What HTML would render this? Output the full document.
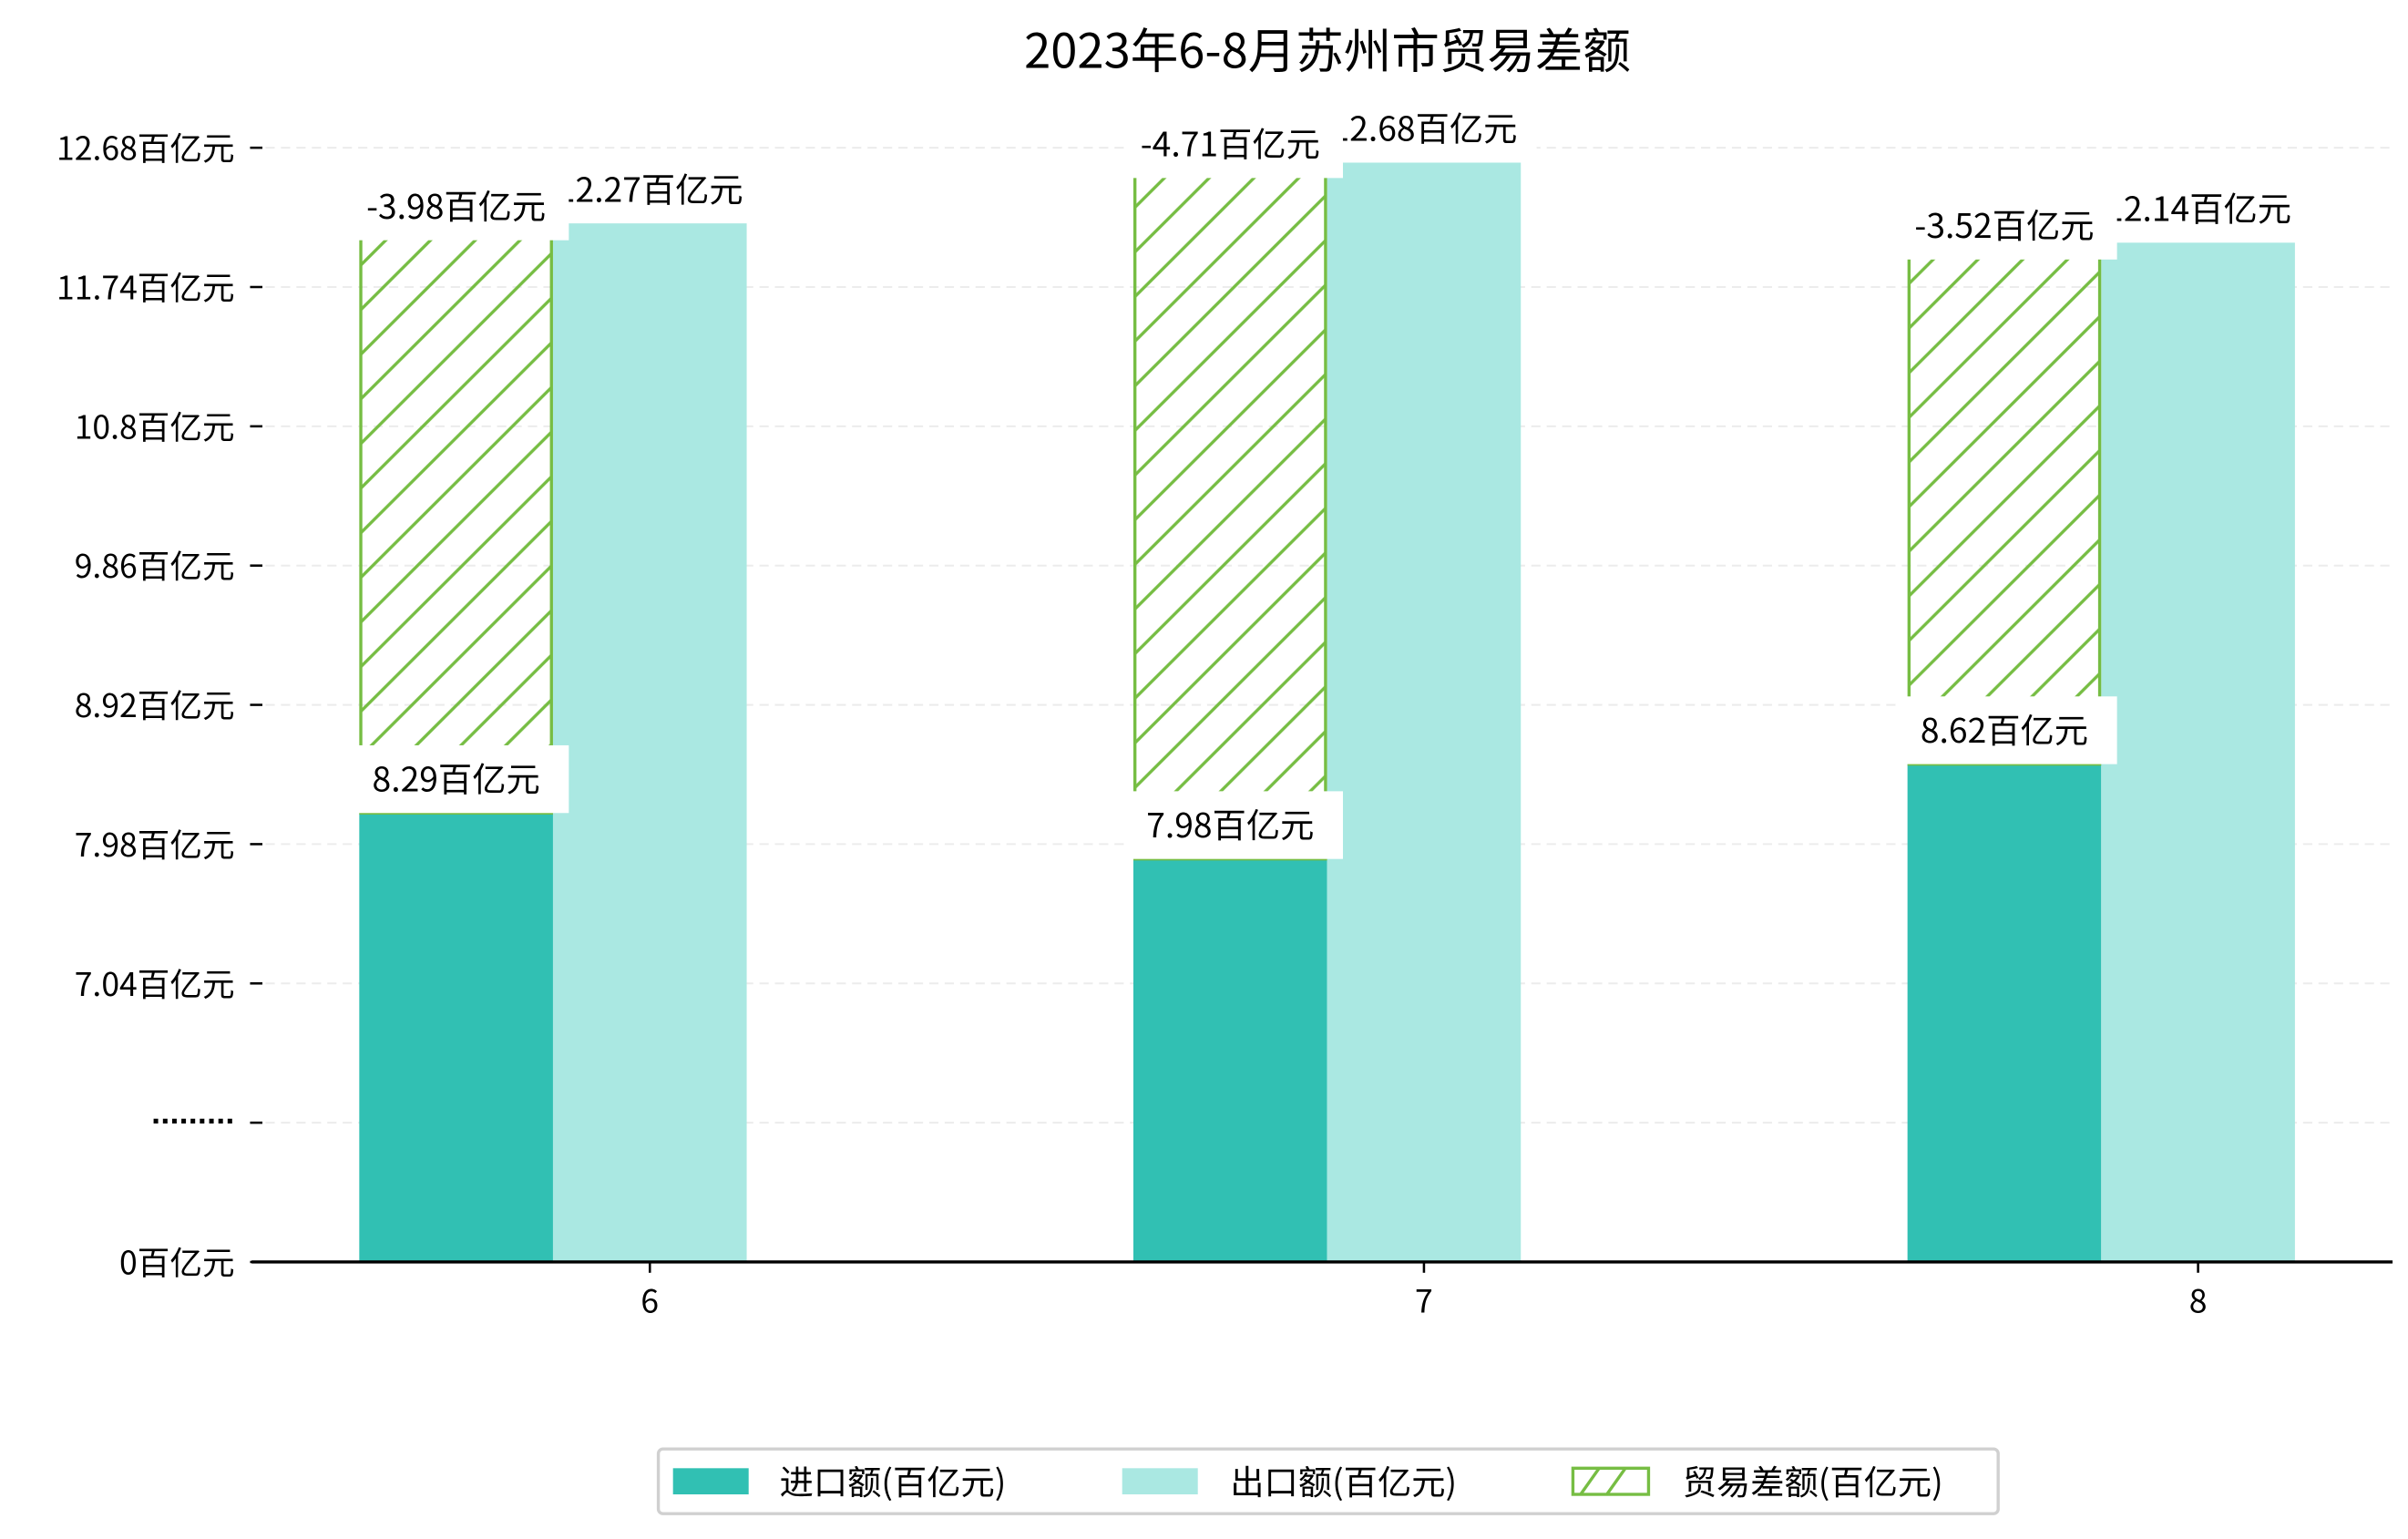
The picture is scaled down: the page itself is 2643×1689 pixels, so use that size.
<!DOCTYPE html>
<html><head><meta charset="utf-8">
<style>
html,body{margin:0;padding:0;background:#fff;}
svg{display:block;}
text{font-family:"WenQuanYi Zen Hei","Noto Sans CJK SC","Liberation Sans",sans-serif;fill:#000;}
</style></head>
<body>
<svg id="chart" width="2643" height="1689" viewBox="0 0 1560 1000" preserveAspectRatio="none" xmlns="http://www.w3.org/2000/svg">
<defs>
<pattern id="hatch" patternUnits="userSpaceOnUse" width="29" height="29">
<line x1="-2" y1="31" x2="31" y2="-2" stroke="#76bd43" stroke-width="2"/>
<line x1="-2" y1="2" x2="2" y2="-2" stroke="#76bd43" stroke-width="2"/>
<line x1="27" y1="31" x2="31" y2="27" stroke="#76bd43" stroke-width="2"/>
</pattern>
</defs>
<text x="860" y="44" font-size="31" text-anchor="middle">2023年6-8月苏州市贸易差额</text>
<g id="grid"></g>
<g id="bars"></g>
<g id="labels"></g>
<g id="axes"></g>
<g>
<rect x="426.5" y="941.5" width="868" height="42" rx="3" fill="#fff" stroke="#d0d0d0" stroke-width="2"/>
<rect x="436" y="954" width="49" height="17" fill="#31c0b3"/>
<text x="505" y="971" font-size="22">进口额(百亿元)</text>
<rect x="727" y="954" width="49" height="17" fill="#aae8e2"/>
<text x="797" y="971" font-size="22">出口额(百亿元)</text>
<rect x="1019" y="954" width="49" height="17" fill="#fff" stroke="#76bd43" stroke-width="2"/>
<line x1="1024" y1="971" x2="1036" y2="954" stroke="#76bd43" stroke-width="2"/>
<line x1="1041" y1="971" x2="1053" y2="954" stroke="#76bd43" stroke-width="2"/>
<text x="1090" y="971" font-size="22">贸易差额(百亿元)</text>
</g>
</svg>
<script>
const months = ["6", "7", "8"];
const imports = [8.29, 7.98, 8.62];
const exports_ = [12.27, 12.68, 12.14];
const balances = [-3.98, -4.71, -3.52];
const tickLabels = ["0百亿元", "·········", "7.04百亿元", "7.98百亿元", "8.92百亿元", "9.86百亿元", "10.8百亿元", "11.74百亿元", "12.68百亿元"];

const NS = "http://www.w3.org/2000/svg";
const axisY = 820, spacing = 90.5, left = 163, right = 1550;
const groupStart = 421, groupStep = 501.5, barW = 125.5;
function yScale(v) {
  if (v <= 0) return axisY;
  return axisY - (2 + (v - 7.14) / 0.94) * spacing;
}
function xCenter(i) { return groupStart + i * groupStep; }
function mk(tag, attrs, parent) {
  const e = document.createElementNS(NS, tag);
  for (const k in attrs) e.setAttribute(k, attrs[k]);
  parent.appendChild(e);
  return e;
}
const grid = document.getElementById('grid');
const bars = document.getElementById('bars');
const labels = document.getElementById('labels');
const axes = document.getElementById('axes');

tickLabels.forEach((t, i) => {
  const y = axisY - i * spacing;
  if (i > 0) {
    const g = mk('line', {x1: 172, x2: right, y1: y, y2: y, stroke: '#e8e8e8', 'stroke-width': 1.2, 'stroke-dasharray': '6,4', opacity: 0.8}, grid);
    
    
  }
  const tk = mk('line', {x1: 162, x2: 170, y1: y, y2: y, stroke: '#000', 'stroke-width': 1.5}, axes);
  
  
  const tx = mk('text', {x: 152, y: y + 8, 'font-size': 21, 'text-anchor': 'end'}, axes);
  if (t.indexOf('百') < 0) {
    tx.setAttribute('style', 'font-family:"Liberation Sans",sans-serif;font-weight:bold;letter-spacing:-1px');
    tx.setAttribute('y', y + 6);
  }
  tx.textContent = t;
  
  
});

const ax = mk('line', {x1: left, x2: right, y1: axisY, y2: axisY, stroke: '#000', 'stroke-width': 2}, axes);



function label(text, cx, bottom, parent, name) {
  const g = mk('g', {}, parent);
  
  
  mk('rect', {x: cx - 68, y: bottom - 44, width: 141, height: 44, fill: '#fff'}, g);
  const t = mk('text', {x: cx, y: bottom - 14, 'font-size': 22, 'text-anchor': 'middle'}, g);
  t.textContent = text;
}

months.forEach((m, i) => {
  const c = xCenter(i);
  const x0 = c - 1.5 * barW, x1 = c - 0.5 * barW;
  const yi = yScale(imports[i]), ye = yScale(exports_[i]);
  const bi = mk('rect', {x: x0, y: yi, width: barW, height: axisY - yi, fill: '#31c0b3'}, bars);
  
  
  const be = mk('rect', {x: x1, y: ye, width: barW, height: axisY - ye, fill: '#aae8e2'}, bars);
  
  
  const yb = yScale(imports[i] - balances[i]);
  const bb = mk('rect', {x: x0 + 1, y: yb, width: barW - 2, height: yi - yb, fill: 'url(#hatch)', stroke: '#76bd43', 'stroke-width': 2}, bars);
  
  
  label(imports[i].toFixed(2) + '百亿元', x0 + barW / 2, yi, labels, 'import-value-label');
  label(exports_[i].toFixed(2) + '百亿元', x1 + barW / 2, ye, labels, 'export-value-label');
  label(balances[i].toFixed(2) + '百亿元', x0 + barW / 2, yb + 11, labels, 'balance-value-label');
  const xt = mk('line', {x1: c, x2: c, y1: axisY, y2: axisY + 7, stroke: '#000', 'stroke-width': 1.5}, axes);
  
  
  const xl = mk('text', {x: c, y: axisY + 33, 'font-size': 21, 'text-anchor': 'middle'}, axes);
  xl.textContent = m;
  
  
});
</script>
</body></html>
